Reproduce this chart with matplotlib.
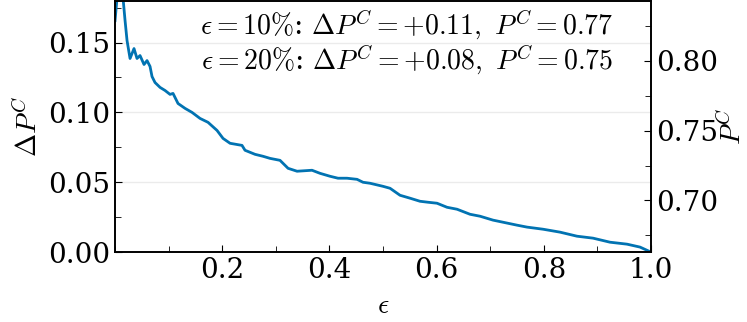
import numpy as np
import matplotlib
matplotlib.use("Agg")
import matplotlib.pyplot as plt
from matplotlib.ticker import MultipleLocator, FixedLocator

plt.rcParams['font.family'] = ['DejaVu Serif']
plt.rcParams['mathtext.fontset'] = 'cm'

# fraction of removed samples vs. gain in P^C
eps = [0.000, 0.0056, 0.013, 0.0187, 0.0224, 0.028, 0.0354, 0.041, 0.0466, 0.0541,
       0.0597, 0.0653, 0.069, 0.0746, 0.084, 0.0933, 0.1026, 0.1082, 0.1175, 0.1306,
       0.1437, 0.1586, 0.1735, 0.1903, 0.2015, 0.2146, 0.2369, 0.2425, 0.2612, 0.2761,
       0.2892, 0.3078, 0.3228, 0.3396, 0.3675, 0.3825, 0.4011, 0.4160, 0.4328, 0.4515,
       0.4627, 0.4757, 0.5000, 0.5131, 0.5317, 0.5504, 0.5690, 0.5840, 0.6007, 0.6194,
       0.6381, 0.6623, 0.6810, 0.7052, 0.7239, 0.7500, 0.7687, 0.7985, 0.8302, 0.8619,
       0.8918, 0.9235, 0.9552, 0.9795, 1.000]
delta_pc = [0.1657, 0.190, 0.190, 0.1657, 0.1514, 0.1386, 0.1457, 0.1386, 0.1407, 0.1343,
            0.1371, 0.1329, 0.1257, 0.1214, 0.1179, 0.1157, 0.1129, 0.1136, 0.1064, 0.1029,
            0.1000, 0.0957, 0.0929, 0.0871, 0.0814, 0.0779, 0.0764, 0.0729, 0.0700, 0.0686,
            0.0671, 0.0657, 0.0600, 0.0579, 0.0586, 0.0564, 0.0543, 0.0529, 0.0529, 0.0521,
            0.0500, 0.0493, 0.0471, 0.0457, 0.0407, 0.0386, 0.0364, 0.0357, 0.0350, 0.0321,
            0.0307, 0.0271, 0.0257, 0.0229, 0.0214, 0.0193, 0.0179, 0.0164, 0.0143, 0.0114,
            0.0100, 0.0071, 0.0057, 0.0036, 0.0000]
pc_base = 0.663  # P^C at eps = 1

notes = [(r'$\epsilon = 10\%$: $\Delta P^C = +0.11,\ P^C = 0.77$', 0.90),
         (r'$\epsilon = 20\%$: $\Delta P^C = +0.08,\ P^C = 0.75$', 0.762)]

fig = plt.figure(figsize=(7.47, 3.22), dpi=100)
ax = fig.add_axes([0.154, 0.217, 0.7175, 0.781])
ax.plot(eps, delta_pc, color='#0173B2', lw=2.0)

ax.set_xlim(0, 1.0)
ax.set_ylim(0, 0.18)
ax.xaxis.set_major_locator(FixedLocator([0.2, 0.4, 0.6, 0.8, 1.0]))
ax.xaxis.set_minor_locator(MultipleLocator(0.1))
ax.yaxis.set_major_locator(MultipleLocator(0.05))
ax.yaxis.set_minor_locator(MultipleLocator(0.025))
ax.yaxis.grid(True, color='#ebebeb', lw=1.0)
ax.set_axisbelow(True)
ax.tick_params(which='both', direction='in', labelsize=20, top=False, right=False)
ax.tick_params(which='major', length=5)
ax.tick_params(which='minor', length=4)
ax.set_xlabel(r'$\epsilon$', fontsize=20, labelpad=6)
ax.set_ylabel(r'$\Delta P^C$', fontsize=20, labelpad=4)

ax2 = ax.twinx()
ax2.set_ylim(pc_base, pc_base + 0.18)
ax2.yaxis.set_major_locator(MultipleLocator(0.05))
ax2.yaxis.set_minor_locator(MultipleLocator(0.025))
ax2.tick_params(which='both', direction='in', labelsize=20)
ax2.tick_params(which='major', length=5)
ax2.tick_params(which='minor', length=4)
ax2.set_ylabel(r'$P^C$', fontsize=20, labelpad=0)

for txt, yy in notes:
    ax.text(0.929, yy, txt, transform=ax.transAxes, ha='right', va='center', fontsize=20)

for a in (ax, ax2):
    for s in a.spines.values():
        s.set_linewidth(1.2)

fig.savefig('out.png', dpi=100)
